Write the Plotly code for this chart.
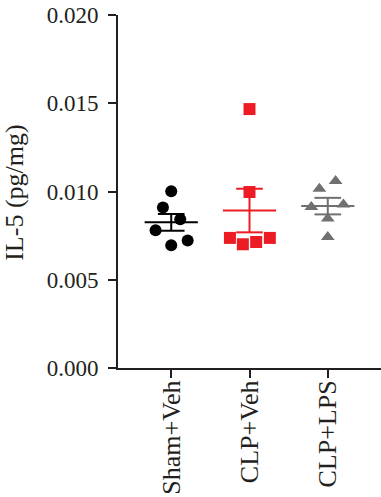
import numpy as np
import plotly.graph_objects as go

categories = ["Sham+Veh", "CLP+Veh", "CLP+LPS"]
sham_veh = [0.01001, 0.00909, 0.00843, 0.00780, 0.00723, 0.00695]
sham_off = [0.0, -0.106, 0.115, -0.20, 0.21, 0.0]
clp_veh = [0.01467, 0.00997, 0.00737, 0.00701, 0.00714, 0.00737]
clp_off = [0.0, 0.0, -0.25, -0.085, 0.085, 0.26]
clp_lps = [0.01060, 0.01016, 0.00912, 0.00926, 0.00847, 0.00742]
lps_off = [0.10, -0.107, -0.21, 0.20, 0.0, 0.0]
y_ticks = [0.000, 0.005, 0.010, 0.015, 0.020]
y_title = "IL-5 (pg/mg)"

groups = [
    (sham_veh, sham_off, "#000000", "circle", 12),
    (clp_veh, clp_off, "#ED1C24", "square", 12),
    (clp_lps, lps_off, "#707070", "triangle-up", 12),
]

fig = go.Figure()
MEAN_HW = 0.34
CAP_HW = 0.17
for i, (vals, offs, col, sym, sz) in enumerate(groups):
    v = np.array(vals)
    m = v.mean()
    sem = v.std(ddof=1) / np.sqrt(len(v))
    xs = [i - MEAN_HW, i + MEAN_HW, None,
          i - CAP_HW, i + CAP_HW, None,
          i - CAP_HW, i + CAP_HW, None,
          i, i]
    ys = [m, m, None, m + sem, m + sem, None, m - sem, m - sem, None,
          m - sem, m + sem]
    fig.add_trace(go.Scatter(x=xs, y=ys, mode="lines",
                             line=dict(color=col, width=2),
                             hoverinfo="skip", showlegend=False))
for i, (vals, offs, col, sym, sz) in enumerate(groups):
    fig.add_trace(go.Scatter(x=[i + o for o in offs], y=vals, mode="markers",
                             marker=dict(color=col, symbol=sym, size=sz,
                                         line=dict(width=0)),
                             showlegend=False))

font_family = "Liberation Serif, Times New Roman, serif"
fig.update_layout(
    width=381, height=497,
    margin=dict(l=118, r=0, t=15, b=129),
    paper_bgcolor="white", plot_bgcolor="white",
    font=dict(family=font_family, color="#231f20"),
    xaxis=dict(range=[-0.68, 2.68], tickvals=[0, 1, 2], ticktext=categories,
               tickangle=-90, showgrid=False, zeroline=False,
               showline=True, linecolor="#231f20", linewidth=2,
               ticks="outside", ticklen=8, tickwidth=2, tickcolor="#231f20",
               tickfont=dict(size=26, family=font_family),
               ticklabelstandoff=-8,
               automargin=False),
    yaxis=dict(range=[0, 0.020], tickvals=y_ticks,
               ticktext=[f"{t:.3f}" for t in y_ticks],
               showgrid=False, zeroline=False,
               showline=True, linecolor="#231f20", linewidth=2,
               ticks="outside", ticklen=8, tickwidth=2, tickcolor="#231f20",
               tickfont=dict(size=23, family=font_family),
               ticklabelstandoff=5,
               automargin=False),
    annotations=[dict(text=y_title, xref="paper", yref="paper",
                      x=-0.392, y=0.496, xanchor="center", yanchor="middle",
                      textangle=-90, showarrow=False,
                      font=dict(size=26, family=font_family, color="#231f20"))],
)
fig.write_html("out.html", config={"displayModeBar": False},
               post_script="document.body.style.margin='0px';")
